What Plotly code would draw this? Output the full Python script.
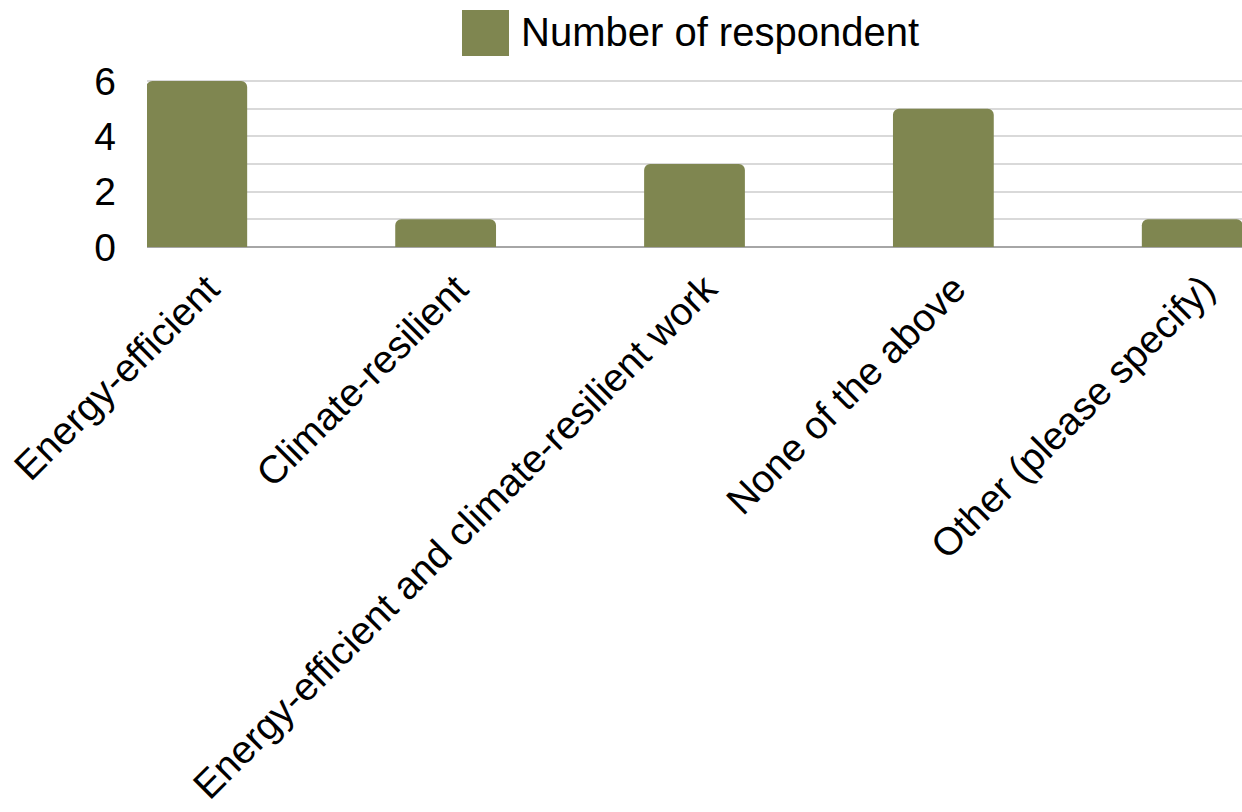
import plotly.graph_objects as go

categories = [
    "Energy-efficient",
    "Climate-resilient",
    "Energy-efficient and climate-resilient work",
    "None of the above",
    "Other (please specify)",
]
values = [6, 1, 3, 5, 1]
series_name = "Number of respondent"
bar_color = "#7f8650"
font_family = "Liberation Sans, Arial, sans-serif"

plot_top = 79
plot_bottom = 247
y_max = 6 * (plot_bottom - plot_top) / (plot_bottom - 81)
plot_h = plot_bottom - plot_top

fig = go.Figure()
fig.add_trace(go.Bar(
    x=categories, y=values, name=series_name,
    marker=dict(color=bar_color, line=dict(width=0)),
    width=0.405, showlegend=False,
))

fig.update_layout(
    width=1242, height=812,
    margin=dict(l=147, r=0, t=plot_top, b=812 - plot_bottom),
    paper_bgcolor="white", plot_bgcolor="white",
    font=dict(family=font_family, color="black"),
    barcornerradius=6,
    xaxis=dict(
        range=[-0.2, 4.2],
        tickangle=-45,
        tickfont=dict(size=39),
        showgrid=False, showline=False, ticks="",
        ticklabelstandoff=10, ticklabelshift=11, automargin=False,
    ),
    yaxis=dict(
        range=[0, y_max], dtick=2, tick0=0,
        tickfont=dict(size=39),
        showgrid=True, gridcolor="#d9d9d9", gridwidth=1.5,
        minor=dict(dtick=1, showgrid=True, gridcolor="#d9d9d9", gridwidth=1.5),
        zeroline=True, zerolinecolor="#a6a6a6", zerolinewidth=2,
        ticks="", ticklabelstandoff=30, showline=False, automargin=False,
    ),
    shapes=[dict(
        type="rect", xref="paper", yref="paper",
        x0=(462 - 147) / 1095, x1=(509 - 147) / 1095,
        y0=(plot_bottom - 56) / plot_h,
        y1=(plot_bottom - 10) / plot_h,
        fillcolor=bar_color, line=dict(width=0),
    )],
    annotations=[dict(
        text=series_name, xref="paper", yref="paper",
        x=(519 - 147) / 1095, y=(plot_bottom - 32) / plot_h,
        xanchor="left", yanchor="middle", showarrow=False,
        font=dict(size=40, family=font_family, color="black"),
    )],
)

fig.write_html("out.html")
